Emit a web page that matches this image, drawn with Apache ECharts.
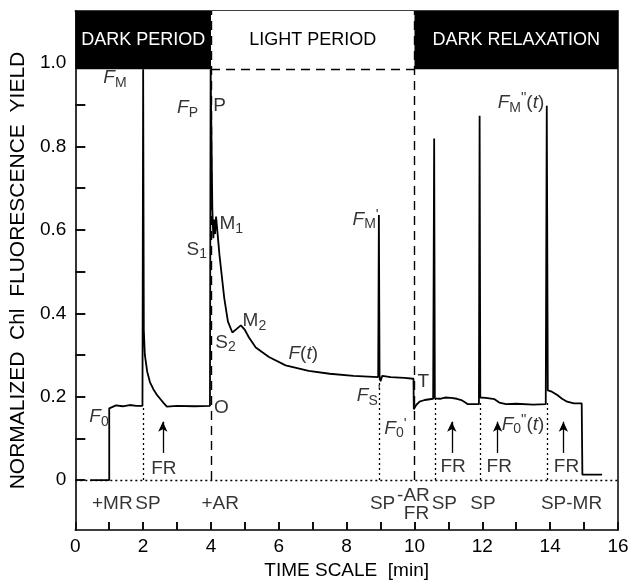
<!DOCTYPE html>
<html>
<head>
<meta charset="utf-8">
<script src="https://cdn.jsdelivr.net/npm/echarts@6/dist/echarts.min.js"></script>
<style>html,body{margin:0;background:#fff}#main{width:632px;height:585px}</style>
</head>
<body>
<div id="main"></div>
<script>
// fluorescence trace, time [min] and normalized yield
var traceTime = [0.44, 1.0, 1.0, 1.05, 1.2, 1.4, 1.6, 1.8, 1.98, 2.0, 2.02, 2.05, 2.12, 2.2, 2.3, 2.4, 2.5, 2.6, 2.7, 3.0, 3.5, 3.97,
    3.99, 4.02, 4.04, 4.07, 4.1, 4.12, 4.15, 4.25, 4.39, 4.5, 4.63, 4.75, 4.88, 5.0, 5.12, 5.32, 5.71, 6.2, 6.88, 7.5, 8.2, 8.93,
    8.95, 8.97, 9.0, 9.05, 9.3, 9.7, 9.97, 9.98, 10.05, 10.15, 10.3, 10.55, 10.58, 10.6, 10.75, 10.9, 11.08, 11.25, 11.38, 11.5,
    11.57, 11.9, 11.92, 11.94, 12.1, 12.36, 12.5, 12.7, 13.0, 13.5, 13.87, 13.9, 13.93, 14.05, 14.21, 14.35, 14.5, 14.7, 14.93,
    14.95, 15.53];
var traceYield = [0.0, 0.0, 0.172, 0.176, 0.179, 0.177, 0.18, 0.178, 0.178, 0.985, 0.36, 0.30, 0.26, 0.235, 0.218, 0.205, 0.195, 0.185, 0.176, 0.178, 0.177, 0.178,
    0.985, 0.985, 0.65, 0.58, 0.625, 0.59, 0.632, 0.54, 0.437, 0.38, 0.354, 0.362, 0.371, 0.36, 0.342, 0.318, 0.295, 0.275, 0.262, 0.255, 0.25, 0.247,
    0.636, 0.25, 0.237, 0.25, 0.247, 0.245, 0.243, 0.17, 0.18, 0.188, 0.192, 0.195, 0.819, 0.196, 0.195, 0.198, 0.197, 0.195, 0.192, 0.186,
    0.182, 0.182, 0.874, 0.198, 0.197, 0.194, 0.186, 0.182, 0.183, 0.181, 0.182, 0.898, 0.215, 0.212, 0.204, 0.195, 0.188, 0.184, 0.184,
    0.013, 0.013];

// dotted drop lines (time, level) and FR arrows
var dropTime = [2.0, 8.95, 10.6, 11.95, 13.91];
var dropLevel = [0.178, 0.245, 0.195, 0.19, 0.19];
var arrowTime = [2.58, 11.1, 12.45, 14.39];

// period bands
var periodNames = ['DARK PERIOD', 'LIGHT PERIOD', 'DARK RELAXATION'];
var periodStart = [0, 4, 10];
var periodEnd = [4, 10, 16];

// text annotations: time, yield, text
var annoTime = [1.17, 3.31, 4.25, 3.58, 4.6, 4.43, 5.28, 6.72, 8.56, 8.65, 9.44, 10.26, 0.70, 4.31, 13.14, 13.2,
    2.61, 11.14, 12.5, 14.48, 1.09, 2.14, 4.27, 9.06, 9.97, 10.06, 10.88, 12.02, 14.63];
var annoYield = [0.964, 0.893, 0.898, 0.553, 0.615, 0.33, 0.382, 0.304, 0.625, 0.202, 0.124, 0.235, 0.152, 0.173, 0.905, 0.133,
    0.028, 0.031, 0.031, 0.031, -0.057, -0.057, -0.057, -0.057, -0.038, -0.081, -0.057, -0.057, -0.057];
var annoText = ['{i|F}{sub|M}', '{i|F}{sub|P}', 'P', 'S{sub|1}', 'M{sub|1}', 'S{sub|2}', 'M{sub|2}', '{i|F}({i|t})',
    '{i|F}{sub|M}{sup|\'}', '{i|F}{sub|S}{sup|\'}', '{i|F}{sub|0}{sup|\'}', 'T', '{i|F}{sub|0}', 'O',
    '{i|F}{sub|M}{sup|"}({i|t})', '{i|F}{sub|0}{sup|"}({i|t})',
    'FR', 'FR', 'FR', 'FR', '+MR', 'SP', '+AR', 'SP', '-AR', 'FR', 'SP', 'SP', 'SP-MR'];

// axis ticks and labels
var yTicks = [0, 0.1, 0.2, 0.3, 0.4, 0.5, 0.6, 0.7, 0.8, 0.9];
var yLabels = [0, 0.2, 0.4, 0.6, 0.8, 1.0];

var YMIN = -0.12, TOP = 1.125, BAND = 0.985;
var font = 'Liberation Sans, Arial, sans-serif';

var trace = traceTime.map(function (t, i) { return [t, traceYield[i]]; });

var guideLines = [];
var dash = {type: [9, 6], width: 1.4, color: '#000'};
var dot = {type: [2, 3], width: 1.3, color: '#000'};
guideLines.push([{coord: [4, 0], lineStyle: dash}, {coord: [4, TOP]}]);
guideLines.push([{coord: [10, 0], lineStyle: dash}, {coord: [10, TOP]}]);
guideLines.push([{coord: [4, BAND], lineStyle: dash}, {coord: [10, BAND]}]);
guideLines.push([{coord: [0, 0], lineStyle: dot}, {coord: [16, 0]}]);
dropTime.forEach(function (t, i) {
    guideLines.push([{coord: [t, 0], lineStyle: dot}, {coord: [t, dropLevel[i]]}]);
});

var arrowLines = arrowTime.map(function (t) {
    return [{coord: [t, 0.065]}, {coord: [t, 0.14]}];
});

var bands = periodNames.map(function (n, i) {
    var dark = i !== 1;
    return [{
        name: n, xAxis: periodStart[i], yAxis: BAND,
        itemStyle: {color: dark ? '#000' : '#fff'},
        label: {color: dark ? '#fff' : '#000'}
    }, {xAxis: periodEnd[i], yAxis: TOP}];
});

var annos = annoTime.map(function (t, i) {
    return {value: [t, annoYield[i]], txt: annoText[i]};
});

var myChart = echarts.init(document.getElementById('main'));
var option = {
    animation: false,
    grid: {left: 71, right: 14, top: 11, bottom: 50, show: false},
    xAxis: [{
        type: 'value', min: 0, max: 16, interval: 1, position: 'bottom',
        name: 'TIME SCALE  [min]', nameLocation: 'middle', nameGap: 28,
        nameTextStyle: {fontSize: 19, color: '#000', fontFamily: font},
        axisLine: {show: true, onZero: false, lineStyle: {color: '#000', width: 1.6}},
        axisTick: {show: true, inside: true, length: 8, lineStyle: {color: '#111', width: 2}},
        axisLabel: {fontSize: 19, color: '#000', margin: 7, fontFamily: font,
            formatter: function (v) { return v % 2 === 0 ? String(v) : ''; }},
        splitLine: {show: false}
    }, {
        type: 'value', min: 0, max: 16, position: 'top',
        axisLine: {show: true, onZero: false, lineStyle: {color: '#000', width: 1.5}},
        axisTick: {show: false}, axisLabel: {show: false}, splitLine: {show: false}
    }],
    yAxis: [{
        type: 'value', min: YMIN, max: TOP, position: 'left',
        name: 'NORMALIZED  Chl  FLUORESCENCE  YIELD', nameLocation: 'middle', nameGap: 46,
        nameTextStyle: {fontSize: 21, color: '#000', fontFamily: font},
        axisLine: {show: true, onZero: false, lineStyle: {color: '#000', width: 1.6}},
        axisTick: {show: true, inside: true, length: 10, customValues: yTicks, lineStyle: {color: '#111', width: 2}},
        axisLabel: {fontSize: 19, color: '#000', margin: 9, fontFamily: font, customValues: yLabels,
            formatter: function (v) { return v === 0 ? '0' : v.toFixed(1); }},
        splitLine: {show: false}
    }, {
        type: 'value', min: YMIN, max: TOP, position: 'right',
        axisLine: {show: true, onZero: false, lineStyle: {color: '#000', width: 1.5}},
        axisTick: {show: false}, axisLabel: {show: false}, splitLine: {show: false}
    }],
    series: [{
        type: 'line', name: 'bands', data: [], silent: true,
        markArea: {silent: true, data: bands,
            label: {show: true, position: 'inside', fontSize: 18, fontFamily: font}}
    }, {
        type: 'line', name: 'guides', data: [], silent: true,
        markLine: {silent: true, symbol: ['none', 'none'], label: {show: false}, data: guideLines}
    }, {
        type: 'line', name: 'arrows', data: [], silent: true,
        markLine: {silent: true, symbol: ['none', 'arrow'], symbolSize: [7, 10], label: {show: false},
            lineStyle: {color: '#000', width: 1.3, type: 'solid'}, data: arrowLines}
    }, {
        type: 'line', name: 'F(t)', data: trace, showSymbol: false, z: 5,
        lineStyle: {color: '#000', width: 1.8}
    }, {
        type: 'scatter', name: 'labels', data: annos, symbolSize: 0, z: 6, silent: true,
        label: {
            show: true, position: 'inside', color: '#000', fontSize: 19, fontFamily: font,
            formatter: function (p) { return p.data.txt; },
            rich: {
                i: {fontStyle: 'italic', fontSize: 19, fontFamily: font},
                sub: {fontSize: 14, verticalAlign: 'top', padding: [10, 0, 0, 0], fontFamily: font},
                sup: {fontSize: 15, verticalAlign: 'top', padding: [0, 0, 0, 0], fontFamily: font}
            }
        }
    }]
};
myChart.setOption(option);
</script>
</body>
</html>
